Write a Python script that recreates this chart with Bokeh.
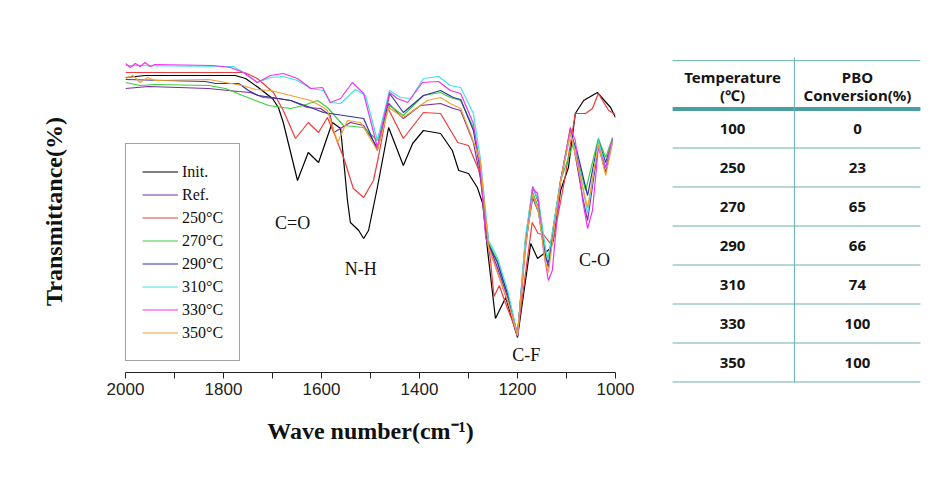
from bokeh.plotting import figure
from bokeh.models import Range1d, FixedTicker, ColumnDataSource
from bokeh.layouts import row, column
from bokeh.core.properties import value
from bokeh.embed import file_html
from bokeh.resources import INLINE

# ---------------- spectra data (wavenumber cm-1, transmittance a.u.) ----------------
init_wn = [2000, 1959, 1776, 1755, 1729, 1700, 1688, 1678, 1649, 1627, 1606, 1578, 1561, 1547, 1541, 1524,
           1514, 1504, 1486, 1463, 1433, 1414, 1392, 1357, 1333, 1320, 1300, 1282, 1271, 1261, 1245, 1224,
           1200, 1173, 1159, 1133, 1127, 1112, 1096, 1082, 1065, 1037, 1010, 1000]
init_t = [295, 297, 297, 294, 285, 274, 265, 250, 192, 220, 210, 250, 244, 172, 150, 142,
          134, 142, 185, 245, 207, 229, 242, 239, 222, 202, 199, 185, 169, 122, 54, 75,
          35, 129, 114, 124, 132, 182, 205, 259, 272, 280, 265, 255]

ref_wn = [2000, 1953, 1831, 1790, 1769, 1745, 1718, 1690, 1663, 1629, 1602, 1582, 1575, 1541, 1514, 1486,
          1463, 1433, 1398, 1357, 1331, 1316, 1290, 1276, 1259, 1241, 1220, 1200, 1184, 1169, 1157, 1143,
          1137, 1112, 1092, 1067, 1057, 1035, 1020, 1006]
ref_t = [284, 286, 284, 282, 281, 280, 275, 274, 272, 265, 264, 257, 240, 250, 247, 225,
         269, 254, 267, 269, 264, 262, 230, 195, 128, 105, 75, 36, 130, 186, 170, 118,
         105, 192, 245, 175, 152, 227, 200, 232]

t250_wn = [2000, 1776, 1757, 1731, 1698, 1678, 1653, 1627, 1606, 1588, 1575, 1555, 1535, 1514, 1494, 1484,
           1465, 1433, 1392, 1357, 1322, 1300, 1276, 1263, 1255, 1248, 1237, 1225, 1200, 1170, 1158, 1147,
           1133, 1126, 1104, 1082, 1061, 1047, 1035, 1014, 1000]
t250_t = [300, 300, 300, 294, 280, 262, 234, 250, 240, 255, 240, 215, 184, 175, 192, 215,
          265, 234, 260, 259, 230, 227, 199, 140, 112, 76, 87, 70, 38, 150, 139, 138,
          129, 135, 192, 259, 259, 264, 279, 262, 258]

t270_wn = [2000, 1970, 1940, 1830, 1796, 1761, 1735, 1708, 1663, 1637, 1608, 1588, 1555, 1514, 1486, 1461,
           1433, 1392, 1357, 1337, 1316, 1290, 1276, 1259, 1241, 1220, 1200, 1184, 1169, 1157, 1143, 1137,
           1112, 1086, 1061, 1035, 1020, 1006]
t270_t = [290, 287, 288, 287, 284, 277, 272, 267, 264, 267, 272, 265, 247, 245, 232, 267,
          257, 277, 280, 275, 272, 245, 205, 130, 112, 78, 38, 130, 180, 165, 120, 115,
          192, 229, 182, 234, 215, 235]

t290_wn = [2000, 1837, 1816, 1769, 1749, 1729, 1700, 1663, 1622, 1596, 1555, 1514, 1486, 1461, 1433, 1392,
           1357, 1331, 1316, 1290, 1276, 1259, 1241, 1220, 1200, 1184, 1169, 1157, 1143, 1137, 1112, 1092,
           1078, 1057, 1035, 1020, 1006]
t290_t = [293, 291, 289, 289, 282, 277, 275, 272, 265, 260, 257, 254, 222, 279, 260, 277,
          282, 275, 273, 242, 202, 128, 110, 78, 37, 128, 175, 160, 115, 110, 192, 240,
          220, 177, 232, 210, 232]

t310_wn = [2000, 1780, 1759, 1731, 1704, 1678, 1649, 1622, 1596, 1582, 1561, 1531, 1510, 1486, 1461, 1439,
           1418, 1392, 1361, 1337, 1316, 1290, 1276, 1259, 1241, 1220, 1200, 1184, 1169, 1157, 1143, 1138,
           1112, 1092, 1078, 1057, 1035, 1020, 1006]
t310_t = [307, 306, 300, 290, 295, 296, 292, 284, 282, 270, 269, 283, 277, 232, 282, 275,
          274, 294, 296, 287, 285, 259, 215, 132, 115, 82, 37, 135, 185, 172, 125, 112,
          192, 239, 215, 159, 232, 205, 232]

t330_wn = [2000, 1990, 1980, 1970, 1960, 1950, 1940, 1822, 1786, 1759, 1731, 1704, 1678, 1649, 1622, 1598,
           1582, 1561, 1537, 1514, 1486, 1461, 1445, 1424, 1394, 1361, 1337, 1316, 1290, 1276, 1265, 1251,
           1235, 1214, 1200, 1184, 1169, 1159, 1147, 1137, 1129, 1112, 1092, 1082, 1067, 1057, 1047, 1035,
           1020, 1006]
t330_t = [309, 305, 309, 306, 310, 306, 308, 307, 305, 300, 290, 297, 299, 294, 284, 285,
          270, 274, 290, 279, 225, 280, 274, 270, 290, 291, 282, 279, 249, 205, 135, 115,
          92, 62, 37, 122, 184, 179, 122, 92, 102, 192, 244, 232, 172, 144, 162, 225,
          205, 234]

t350_wn = [2000, 1985, 1970, 1955, 1940, 1830, 1796, 1761, 1735, 1704, 1663, 1622, 1596, 1588, 1567, 1547,
           1520, 1486, 1463, 1433, 1384, 1357, 1337, 1316, 1296, 1276, 1259, 1241, 1220, 1200, 1184, 1169,
           1157, 1143, 1137, 1112, 1092, 1067, 1057, 1035, 1020, 1006]
t350_t = [294, 297, 290, 295, 292, 293, 290, 287, 283, 282, 277, 272, 265, 262, 230, 252,
          250, 222, 265, 255, 272, 275, 269, 264, 239, 212, 125, 100, 72, 37, 125, 178,
          160, 110, 100, 192, 240, 185, 165, 228, 197, 230]

series_names = ["Init.", "Ref.", "250°C", "270°C", "290°C", "310°C", "330°C", "350°C"]
series_wn = [init_wn, ref_wn, t250_wn, t270_wn, t290_wn, t310_wn, t330_wn, t350_wn]
series_t = [init_t, ref_t, t250_t, t270_t, t290_t, t310_t, t330_t, t350_t]
series_colors = ["#000000", "#7B2C9E", "#EE3B3B", "#3CCF3C", "#33339F", "#3FE3E3", "#F033F0", "#F2A030"]

# peak assignment labels
peak_labels = ["C=O", "N-H", "C-F", "C-O"]
peak_wn = [1659, 1520, 1182, 1043]
peak_t = [150, 104, 18, 113]

# ---------------- table data ----------------
temps = [100, 250, 270, 290, 310, 330, 350]
conversion = [0, 23, 65, 66, 74, 100, 100]

x_ticks = [2000, 1800, 1600, 1400, 1200, 1000]
x_minor = [1900, 1700, 1500, 1300, 1100]

SERIF = "Liberation Serif"

p = figure(width=650, height=467, x_range=Range1d(2000, 1000), y_range=Range1d(0, 322),
           output_backend="svg", toolbar_location=None,
           min_border_left=125, min_border_right=35, min_border_top=50, min_border_bottom=95)
p.outline_line_color = None
p.xgrid.visible = False
p.ygrid.visible = False
p.background_fill_color = "white"
p.border_fill_color = "white"

for name, wn, tv, c in zip(series_names, series_wn, series_t, series_colors):
    p.line(wn, tv, line_color=c, line_width=1.2, legend_label=name)

p.text(x=peak_wn, y=peak_t, text=peak_labels, text_font=value(SERIF), text_font_size="18px",
       text_align="center", text_baseline="middle", text_color="#111111")

xa = p.xaxis[0]
xa.ticker = FixedTicker(ticks=x_ticks, minor_ticks=x_minor)
xa.major_tick_out = 6
xa.major_tick_in = 0
xa.minor_tick_out = 6
xa.minor_tick_in = 0
xa.axis_line_color = "#222222"
xa.major_tick_line_color = "#222222"
xa.minor_tick_line_color = "#222222"
xa.major_label_text_font = "Liberation Sans"
xa.major_label_text_font_size = "17px"
xa.major_label_text_color = "#222222"
xa.major_label_standoff = 4
xa.axis_label = "Wave number(cm⁻¹)"
xa.axis_label_text_font = SERIF
xa.axis_label_text_font_style = "bold"
xa.axis_label_text_font_size = "24px"
xa.axis_label_text_color = "#111111"
xa.axis_label_standoff = 20

ya = p.yaxis[0]
ya.ticker = FixedTicker(ticks=[])
ya.axis_line_color = None
ya.major_tick_line_color = None
ya.minor_tick_line_color = None
ya.major_tick_out = 0
ya.major_tick_in = 0
ya.major_label_text_font_size = "0px"
ya.axis_label = "Transmittance(%)"
ya.axis_label_text_font = SERIF
ya.axis_label_text_font_style = "bold"
ya.axis_label_text_font_size = "24px"
ya.axis_label_text_color = "#111111"
ya.axis_label_standoff = 59

lg = p.legend[0]
lg.location = (0, 11)
lg.margin = 0
lg.padding = 16
lg.spacing = 0
lg.label_height = 23
lg.glyph_height = 23
lg.glyph_width = 36
lg.label_standoff = 4
lg.label_text_font = SERIF
lg.label_text_font_size = "16px"
lg.label_text_color = "#111111"
lg.border_line_color = "#444444"
lg.border_line_width = 1
lg.background_fill_alpha = 1.0

# ---------------- table figure ----------------
# row coordinate r: image_y = 128 + 39 * r
rows = list(range(len(temps)))
t = figure(width=280, height=467, x_range=Range1d(0, 1), y_range=Range1d(467 / 39 - 128 / 39, -128 / 39),
           output_backend="svg", toolbar_location=None, x_axis_type=None, y_axis_type=None,
           min_border_left=0, min_border_right=0, min_border_top=0, min_border_bottom=0)
t.outline_line_color = None
t.xgrid.visible = False
t.ygrid.visible = False

col1_x, col2_x, left_x, right_x, mid_x = 0.293, 0.739, 0.079, 0.964, 0.514
THIN = "#6AAFB0"
THICK = "#4A9FA2"

row_lines = [r + 0.5 for r in rows]
t.segment(x0=left_x, x1=right_x, y0=row_lines, y1=row_lines, line_color=THIN, line_width=1)
t.segment(x0=left_x, x1=right_x, y0=-1.74, y1=-1.74, line_color=THIN, line_width=1)
t.segment(x0=left_x, x1=right_x, y0=-0.5, y1=-0.5, line_color=THICK, line_width=4)
t.segment(x0=mid_x, x1=mid_x, y0=-1.82, y1=rows[-1] + 0.5, line_color=THIN, line_width=1)

TFONT = value("Noto Sans")
src = ColumnDataSource(dict(r=rows, temp=[str(v) for v in temps], conv=[str(v) for v in conversion]))
t.text(x=col1_x, y="r", text="temp", source=src, text_font=TFONT, text_font_style="bold",
       text_font_size="15px", text_align="center", text_baseline="middle", text_color="#151515")
t.text(x=col2_x, y="r", text="conv", source=src, text_font=TFONT, text_font_style="bold",
       text_font_size="15px", text_align="center", text_baseline="middle", text_color="#151515")

head_x = [col1_x, col1_x, col2_x, col2_x]
head_y = [-1.33, -0.85, -1.33, -0.85]
head_txt = ["Temperature", "(℃)", "PBO", "Conversion(%)"]
t.text(x=head_x, y=head_y, text=head_txt, text_font=TFONT, text_font_style="bold",
       text_font_size="15px", text_align="center", text_baseline="middle", text_color="#151515")

layout = row(p, column(t))
open("out.html", "w").write(file_html(layout, INLINE))
